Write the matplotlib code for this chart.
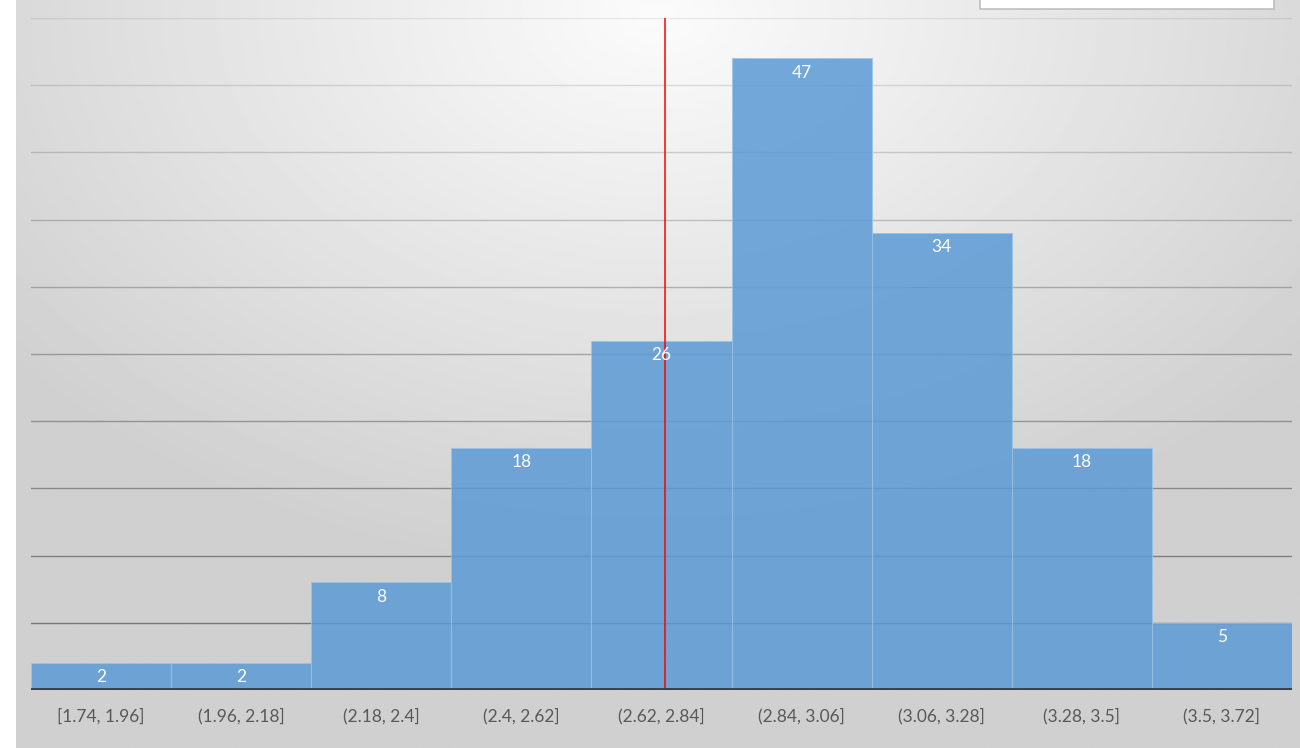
import matplotlib.pyplot as plt
import numpy as np
from matplotlib.patches import Rectangle

bins = ['[1.74, 1.96]', '(1.96, 2.18]', '(2.18, 2.4]', '(2.4, 2.62]', '(2.62, 2.84]',
        '(2.84, 3.06]', '(3.06, 3.28]', '(3.28, 3.5]', '(3.5, 3.72]']
counts = [2, 2, 8, 18, 26, 47, 34, 18, 5]
bin_start = 1.74
bin_width = 0.22
mean_value = 2.736

plt.rcParams['font.family'] = ['Lato', 'DejaVu Sans']

fig = plt.figure(figsize=(13, 7.48), dpi=100)
fig.patch.set_facecolor('white')

# radial grey background, light at top centre
bg = fig.add_axes([16/1300, 0, 1 - 16/1300, 1], zorder=0)
yy, xx = np.mgrid[0:1:300j, 0:1:600j]
r = np.sqrt(((xx - 0.5) * 1.4) ** 2 + ((yy - 0.02) * 1.2) ** 2)
shade = 0.985 - 0.17 * np.clip(r / 0.9, 0, 1)
bg.imshow(shade, cmap='gray', vmin=0, vmax=1, aspect='auto', extent=[0, 1, 1, 0])
bg.axis('off')

ax = fig.add_axes([31/1300, 1 - 690/748, (1292-31)/1300, (690-18)/748], zorder=1)
ax.patch.set_alpha(0)
x = np.arange(len(counts))
ax.set_xlim(-0.5, len(counts) - 0.5)
ax.set_ylim(0, 50)

for g in range(5, 51, 5):
    a = 0.42 - 0.34 * (g - 5) / 45
    ax.axhline(g, color='black', alpha=a, lw=1, zorder=1)

bars = ax.bar(x, counts, width=1.0, color='#5B9BD5', alpha=0.85,
              edgecolor='#9DC3E6', linewidth=0.6, zorder=2)
for xi, c in zip(x, counts):
    ax.annotate(str(c), (xi, c), xytext=(0, -4.5), textcoords='offset points',
                ha='center', va='top', color='white', fontsize=12.5, zorder=4)

mean_pos = (mean_value - bin_start) / bin_width - 0.5
ax.axvline(mean_pos, color='#FF0000', lw=1.1, zorder=3)

ax.axhline(0, color='#3a3f48', lw=2.8, zorder=5)

ax.set_yticks([])
ax.set_xticks(x)
ax.set_xticklabels(bins, fontsize=12.5, color='#595959')
ax.tick_params(axis='x', length=0, pad=13)
for s in ax.spines.values():
    s.set_visible(False)

# legend box cut off at the top
fig.patches.append(Rectangle((980/1300, 1 - 9/748), (1274-980)/1300, 0.05,
                             transform=fig.transFigure, facecolor='white',
                             edgecolor='#BFBFBF', lw=1.2, zorder=10))

fig.savefig('out.png', dpi=100)
